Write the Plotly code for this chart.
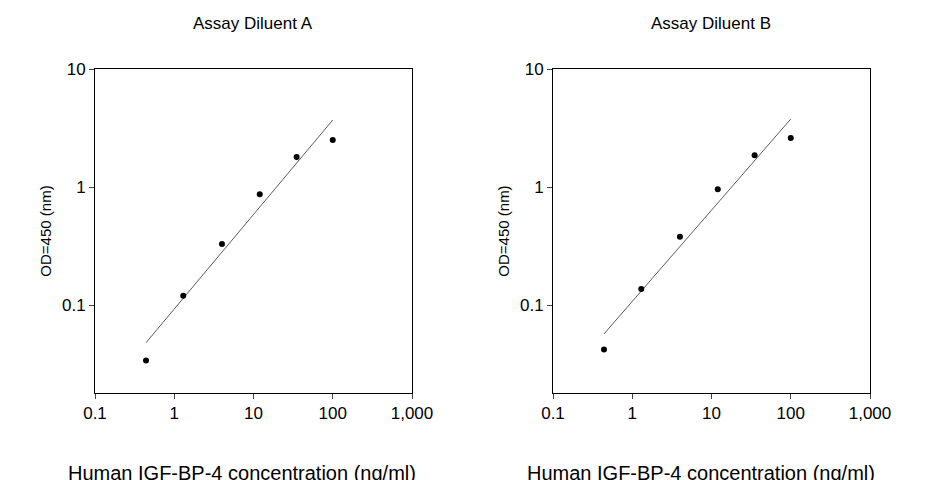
import plotly.graph_objects as go
import math

conc = [0.44, 1.3, 4.0, 12.0, 35.0, 100.0]
od_a = [0.034, 0.12, 0.33, 0.87, 1.8, 2.5]
od_b = [0.042, 0.137, 0.38, 0.96, 1.86, 2.6]
fit_x = [0.44, 100.0]
fit_a = [0.048, 3.7]
fit_b = [0.057, 3.77]
xticks = [0.1, 1, 10, 100, 1000]
xlabels = ["0.1", "1", "10", "100", "1,000"]
yticks = [0.1, 1, 10]
ylabels = ["0.1", "1", "10"]

F = "Liberation Sans, Arial"
fig = go.Figure()
for i, (od, fit) in enumerate([(od_a, fit_a), (od_b, fit_b)]):
    xa = "x" if i == 0 else "x2"
    ya = "y" if i == 0 else "y2"
    fig.add_trace(go.Scatter(x=fit_x, y=fit, mode="lines", line=dict(color="#333", width=0.8), xaxis=xa, yaxis=ya, showlegend=False))
    fig.add_trace(go.Scatter(x=conc, y=od, mode="markers", marker=dict(color="black", size=6), xaxis=xa, yaxis=ya, showlegend=False))

H, W = 480, 926
ydom = [1 - 385 / H, 1 - 61 / H]
common_x = dict(type="log", range=[-1, 3], tickvals=xticks, ticktext=xlabels, ticks="outside", ticklen=5,
                showline=True, mirror=True, linecolor="black", linewidth=1, showgrid=False, zeroline=False,
                automargin=False, tickfont=dict(family=F, size=17, color="black"))
common_y = dict(type="log", range=[math.log10(0.018), 1], tickvals=yticks, ticktext=ylabels, ticks="outside", ticklen=5,
                showline=True, mirror=True, linecolor="black", linewidth=1, showgrid=False, zeroline=False,
                automargin=False, tickfont=dict(family=F, size=17, color="black"),
                title=dict(text="OD=450 (nm)", font=dict(family=F, size=15, color="black"), standoff=6))
ann = dict(xref="paper", yref="paper", showarrow=False, xanchor="center", yanchor="middle")
fig.update_layout(
    width=W, height=H, autosize=False, margin=dict(l=0, r=0, t=0, b=0, autoexpand=False),
    plot_bgcolor="white", paper_bgcolor="white",
    xaxis=dict(domain=[87 / W, 404 / W], anchor="y", **common_x),
    yaxis=dict(domain=ydom, anchor="x", **common_y),
    xaxis2=dict(domain=[545 / W, 862 / W], anchor="y2", **common_x),
    yaxis2=dict(domain=ydom, anchor="x2", **common_y),
    annotations=[
        dict(text="Assay Diluent A", x=245 / W, y=1 - 15 / H, font=dict(family=F, size=17, color="black"), **ann),
        dict(text="Assay Diluent B", x=703 / W, y=1 - 15 / H, font=dict(family=F, size=17, color="black"), **ann),
        dict(text="Human IGF-BP-4 concentration (ng/ml)", x=234 / W, y=1 - 465 / H, font=dict(family=F, size=20, color="black"), **ann),
        dict(text="Human IGF-BP-4 concentration (ng/ml)", x=693 / W, y=1 - 465 / H, font=dict(family=F, size=20, color="black"), **ann),
    ],
)
fig.write_html("out.html")
